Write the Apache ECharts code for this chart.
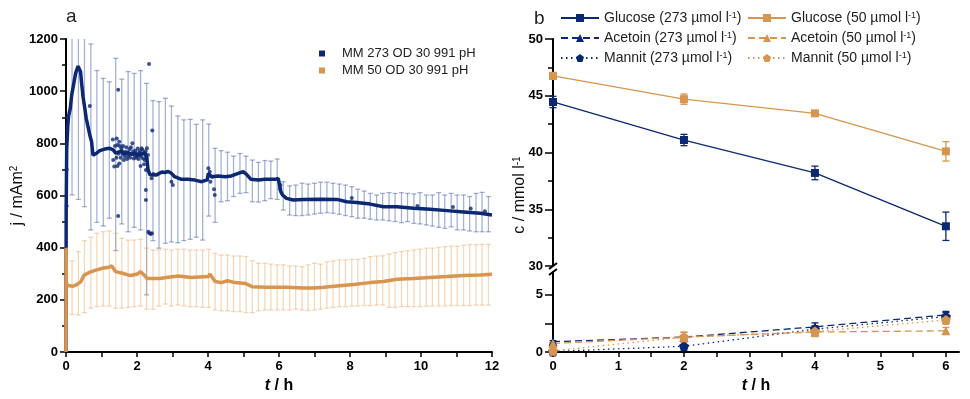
<!DOCTYPE html>
<html><head><meta charset="utf-8">
<script src="https://cdn.jsdelivr.net/npm/echarts@6/dist/echarts.min.js"></script>
<style>html,body{margin:0;padding:0;background:#fff}#c{width:970px;height:399px}</style>
</head><body><div id="c"></div>
<script>
// ---------- Panel a data ----------
const leftNames = ['MM 273 OD 30 991 pH', 'MM 50 OD 30 991 pH'];
const xTicksA = [0, 1, 2, 3, 4, 5, 6, 7, 8, 9, 10, 11, 12];
const xLabelsA = [0, 2, 4, 6, 8, 10, 12];
const blueTrace = [[0,0],[0.005,550],[0.02,780],[0.05,864],[0.07,902],[0.12,934],[0.16,985],[0.22,1030],[0.27,1068],[0.34,1096],[0.37,1094],[0.41,1075],[0.44,1030],[0.48,979],[0.53,934],[0.57,896],[0.62,864],[0.67,832],[0.72,807],[0.74,781],[0.76,755],[0.81,752],[0.86,762],[0.95,772],[1.09,778],[1.23,781],[1.33,775],[1.40,762],[1.45,765],[1.55,770],[1.65,760],[1.75,765],[1.85,758],[1.95,762],[2.05,755],[2.15,760],[2.22,765],[2.28,740],[2.31,700],[2.36,680],[2.41,679],[2.55,679],[2.70,690],[2.78,688],[2.88,692],[2.97,685],[3.06,672],[3.25,662],[3.44,662],[3.63,659],[3.82,653],[3.91,657],[3.98,660],[4.01,685],[4.05,678],[4.10,672],[4.29,675],[4.48,672],[4.66,675],[4.85,685],[4.99,691],[5.08,682],[5.21,662],[5.42,659],[5.60,662],[5.89,662],[5.98,665],[6.02,670],[6.05,615],[6.10,602],[6.21,589],[6.40,583],[6.69,585],[7.16,586],[7.63,585],[7.91,576],[8.19,573],[8.57,567],[8.94,557],[9.32,557],[9.79,551],[10.26,547],[10.73,542],[11.20,537],[11.67,532],[12.0,525]];
const orangeTrace = [[0,0],[0.005,400],[0.01,265],[0.05,255],[0.10,250],[0.20,252],[0.30,258],[0.42,270],[0.51,295],[0.66,305],[0.84,314],[1.03,321],[1.21,325],[1.29,330],[1.40,308],[1.59,302],[1.82,293],[2.01,299],[2.10,308],[2.20,295],[2.28,282],[2.45,282],[2.64,282],[2.83,286],[3.16,291],[3.53,286],[4.01,289],[4.05,299],[4.20,270],[4.38,266],[4.55,273],[4.76,266],[5.05,263],[5.25,250],[5.61,248],[6.21,248],[6.69,245],[6.97,245],[7.25,248],[7.63,253],[8.10,259],[8.57,266],[8.94,270],[9.32,279],[9.79,282],[10.26,286],[10.73,289],[11.20,293],[11.67,295],[12.0,298]];
const blueScatter = [[0.02,560],[0.02,700],[0.03,850],[0.04,900],[0.67,943],[1.32,815],[1.36,711],[1.33,736],[1.43,819],[1.45,794],[1.47,1005],[1.47,521],[1.45,713],[1.50,806],[1.50,723],[1.56,781],[1.59,759],[1.63,736],[1.68,768],[1.75,752],[1.79,777],[1.84,759],[1.87,800],[1.91,742],[1.96,772],[2.00,752],[2.06,762],[2.10,713],[2.13,781],[2.17,742],[2.22,736],[2.25,698],[2.25,621],[2.25,583],[2.28,781],[2.31,755],[2.32,461],[2.35,455],[2.39,452],[2.42,455],[2.34,1104],[2.43,849],[2.41,666],[2.46,682],[2.97,653],[3.01,640],[4.01,704],[4.05,691],[4.07,653],[4.12,672],[4.17,624],[4.19,602],[6.04,640],[6.03,625],[8.05,590],[9.90,560],[10.90,556],[11.40,550],[11.80,540],
  [1.38,790],[1.42,745],[1.48,760],[1.52,790],[1.54,745],[1.58,770],[1.61,790],[1.66,750],[1.70,785],[1.72,740],[1.77,760],[1.81,745],[1.83,785],[1.89,770],[1.93,755],[1.98,745],[2.02,780],[2.04,740],[2.08,770],[2.11,750],[2.15,775],[2.19,760],[2.20,720],[2.24,770],[2.27,745]];
const errT = [0.17,0.35,0.52,0.70,0.87,1.05,1.22,1.40,1.57,1.75,1.92,2.10,2.27,2.45,2.62,2.80,
  2.97,3.15,3.32,3.50,3.67,3.85,4.02,4.20,4.37,4.55,4.72,4.90,5.07,5.25,5.42,5.60,5.77,
  5.95,6.12,6.30,6.47,6.65,6.82,7.00,7.17,7.35,7.52,7.70,7.87,8.05,8.22,8.40,8.57,8.75,8.92,
  9.10,9.27,9.45,9.62,9.80,9.97,10.15,10.32,10.50,10.67,10.85,11.02,11.20,11.37,11.55,11.72,11.90];
const blueHi = [1300,1300,1250,1181,1079,1049,1036,1126,1046,1075,1068,1079,1030,964,960,973,
  943,905,890,892,873,890,874,781,772,766,751,761,751,736,727,734,732,
  740,653,637,640,647,644,647,651,651,647,644,640,634,624,617,608,602,608,
  611,608,611,608,606,611,602,602,611,602,608,602,602,596,608,612,596];
const blueLo = [602,585,557,468,497,483,513,389,491,461,478,468,219,427,398,417,
  422,419,427,432,440,429,521,497,576,580,596,608,611,576,575,580,588,
  585,544,525,523,523,525,529,532,534,532,528,523,519,513,513,509,506,506,
  503,500,496,500,493,491,487,483,478,474,480,468,468,464,461,461,461];
const orangeHi = [349,385,427,440,455,461,464,455,436,429,429,432,398,391,391,394,
  391,394,394,391,391,391,394,378,372,372,368,368,366,350,340,340,337,
  334,334,330,330,327,334,340,337,346,349,353,353,355,355,359,366,368,369,
  376,381,385,388,391,394,398,398,401,404,406,406,409,412,412,413,413];
const orangeLo = [144,142,151,168,174,176,176,168,168,171,174,176,164,164,176,184,
  176,180,176,174,174,171,171,161,158,158,155,155,151,151,158,161,161,
  161,161,161,164,161,159,161,164,168,171,174,174,176,176,178,178,180,180,
  171,171,174,174,174,174,176,176,176,176,178,178,178,178,180,180,180];

// ---------- Panel b data ----------
const rightNames = ['Glucose (273 µmol l⁻¹)','Glucose (50 µmol l⁻¹)','Acetoin (273 µmol l⁻¹)','Acetoin (50 µmol l⁻¹)','Mannit (273 µmol l⁻¹)','Mannit (50 µmol l⁻¹)'];
const tB = [0, 2, 4, 6];
const glu273 = [44.45, 41.1, 38.2, 33.5], glu273Err = [0.5, 0.5, 0.6, 1.25];
const glu50 = [46.75, 44.7, 43.45, 40.1], glu50Err = [0.3, 0.45, 0.15, 0.85];
const ace273 = [0.9, 1.3, 2.2, 3.25], ace273Err = [0.1, 0.15, 0.35, 0.3];
const ace50 = [0.75, 1.3, 1.75, 1.85], ace50Err = [0.1, 0.4, 0.4, 0.3];
const man273 = [0.05, 0.5, 2.0, 3.1], man273Err = [0.05, 0.1, 0.3, 0.35];
const man50 = [0.1, 1.3, 1.8, 2.8], man50Err = [0.05, 0.45, 0.4, 0.3];
const xTicksB = [0,0.5,1,1.5,2,2.5,3,3.5,4,4.5,5,5.5,6];
const xLabelsB = [0,1,2,3,4,5,6];
const yLabelsBUp = [30,35,40,45,50];
const yTicksBLow = [0,2.5,5];
const yLabelsBLow = [0,5];

// ---------- styling ----------
const NAVY = '#0c2872', ORANGE = '#d8954f';
const FONT = 'Liberation Sans';
const chart = echarts.init(document.getElementById('c'));

function errSeries(pts, xi, yi, color, lw, cap, yMax, z) {
  return {
    type: 'custom', xAxisIndex: xi, yAxisIndex: yi, data: pts, z: z, silent: true,
    encode: { x: 0, y: [1, 2] },
    renderItem: function (params, api) {
      const x = api.value(0), lo = api.value(1), hi = api.value(2);
      const clipped = hi > yMax;
      const pt = api.coord([x, clipped ? yMax : hi]);
      const pb = api.coord([x, lo]);
      const st = { stroke: color, lineWidth: lw };
      const ch = [{ type: 'line', shape: { x1: pt[0], y1: pt[1], x2: pb[0], y2: pb[1] }, style: st }];
      if (!clipped) ch.push({ type: 'line', shape: { x1: pt[0] - cap, y1: pt[1], x2: pt[0] + cap, y2: pt[1] }, style: st });
      ch.push({ type: 'line', shape: { x1: pb[0] - cap, y1: pb[1], x2: pb[0] + cap, y2: pb[1] }, style: st });
      return { type: 'group', children: ch };
    }
  };
}
const zip = (t, v) => t.map((x, i) => [x, v[i]]);
const errPts = (t, v, e) => t.map((x, i) => [x, v[i] - e[i], v[i] + e[i]]);

const axisBase = {
  axisLine: { lineStyle: { color: '#000', width: 2 } },
  axisTick: { lineStyle: { color: '#000', width: 1.5 }, length: 6 },
  splitLine: { show: false },
  axisLabel: { color: '#000', fontSize: 13, fontWeight: 'bold', fontFamily: FONT, formatter: v => String(v) }
};
const merge = (a, b) => echarts.util.merge(echarts.util.clone(a), b, true);

const supRich = {
  n: { fontSize: 14, fontFamily: FONT, color: '#222' },
  s: { fontSize: 9, fontFamily: FONT, color: '#222', verticalAlign: 'top', lineHeight: 10 }
};
const legFmt = name => {
  const p = name.split('⁻¹');
  return '{n|' + p[0] + '}{s|-1}{n|' + p[1] + '}';
};
const lineSeries = (name, vals, xi, yi, color, type, symbol, size) => ({
  name: name, type: 'line', xAxisIndex: xi, yAxisIndex: yi, data: zip(tB, vals),
  lineStyle: { color: color, width: 1.3, type: type },
  itemStyle: { color: color }, symbol: symbol, symbolSize: size, z: 5
});
const HEX = 'path://M0,-1L0.95,-0.31L0.59,0.81L-0.59,0.81L-0.95,-0.31Z';
const titleRich = { i: { fontStyle: 'italic', fontWeight: 'bold', fontSize: 16, fontFamily: FONT }, n: { fontWeight: 'bold', fontSize: 16, fontFamily: FONT } };

const option = {
  animation: false,
  textStyle: { fontFamily: FONT },
  grid: [
    { left: 66, top: 39, width: 426, height: 313 },
    { left: 553, top: 39, width: 406, height: 227 },
    { left: 553, top: 272, width: 406, height: 80 }
  ],
  xAxis: [
    merge(axisBase, { gridIndex: 0, type: 'value', min: 0, max: 12, interval: 1,
      axisTick: { customValues: xTicksA, length: 5 }, axisLabel: { customValues: xLabelsA, margin: 8 },
      name: '{i|t}{n| / h}', nameLocation: 'middle', nameGap: 26, nameTextStyle: { rich: titleRich } }),
    merge(axisBase, { gridIndex: 1, type: 'value', min: 0, max: 6.2, show: false }),
    merge(axisBase, { gridIndex: 2, type: 'value', min: 0, max: 6.2,
      axisTick: { customValues: xTicksB, length: 5 }, axisLabel: { customValues: xLabelsB, margin: 8 },
      name: '{i|t}{n| / h}', nameLocation: 'middle', nameGap: 26, nameTextStyle: { rich: titleRich } })
  ],
  yAxis: [
    merge(axisBase, { gridIndex: 0, type: 'value', min: 0, max: 1200, interval: 200,
      minorTick: { show: true, splitNumber: 2, length: 4, lineStyle: { color: '#000', width: 1.5 } },
      axisLabel: { margin: 8 },
      name: '{n|j / mAm}{s|2}', nameLocation: 'middle', nameGap: 37, nameRotate: 90,
      nameTextStyle: { rich: { n: { fontSize: 16, fontFamily: FONT, color: '#111' }, s: { fontSize: 10, fontFamily: FONT, color: '#111', verticalAlign: 'top', lineHeight: 10 } } } }),
    merge(axisBase, { gridIndex: 1, type: 'value', min: 30, max: 50, interval: 5,
      minorTick: { show: true, splitNumber: 2, length: 5, lineStyle: { color: '#000', width: 1.5 } },
      axisTick: { length: 8 }, axisLabel: { customValues: yLabelsBUp, margin: 10 } }),
    merge(axisBase, { gridIndex: 2, type: 'value', min: 0, max: 7,
      axisTick: { customValues: yTicksBLow, length: 8 }, axisLabel: { customValues: yLabelsBLow, margin: 10 } })
  ],
  legend: [
    { orient: 'vertical', left: 314, top: 42, itemWidth: 6, itemHeight: 6, itemGap: 4,
      data: leftNames.map(n => ({ name: n, icon: 'rect' })),
      textStyle: { fontSize: 13, color: '#222', fontFamily: FONT, padding: [0, 0, 0, 12] } },
    { orient: 'vertical', left: 555, top: 6, itemWidth: 38, itemHeight: 10, itemGap: 6,
      data: [rightNames[0], rightNames[2], rightNames[4]], formatter: legFmt,
      textStyle: { rich: supRich } },
    { orient: 'vertical', left: 742, top: 6, itemWidth: 38, itemHeight: 10, itemGap: 6,
      data: [rightNames[1], rightNames[3], rightNames[5]], formatter: legFmt,
      textStyle: { rich: supRich } }
  ],
  graphic: [
    { id: 'la', type: 'text', left: 66, top: 7, style: { text: 'a', fontSize: 19, fontFamily: FONT, fill: '#222' } },
    { id: 'lb', type: 'text', left: 534, top: 9, style: { text: 'b', fontSize: 19, fontFamily: FONT, fill: '#222' } },
    { id: 'cy', type: 'text', x: 520, y: 195, rotation: Math.PI / 2,
      style: { text: '{n|c / mmol l}{s|-1}', align: 'center', verticalAlign: 'middle',
        rich: { n: { fontSize: 16, fontFamily: FONT, fill: '#111' }, s: { fontSize: 10, fontFamily: FONT, fill: '#111', verticalAlign: 'top', lineHeight: 10 } } } }
  ],
  series: [
    errSeries(errT.map((t, i) => [t, blueLo[i], blueHi[i]]), 0, 0, 'rgba(40,70,155,0.42)', 1.3, 2.5, 1200, 1),
    errSeries(errT.map((t, i) => [t, orangeLo[i], orangeHi[i]]), 0, 0, 'rgba(230,160,90,0.42)', 1.3, 2.5, 1200, 1),
    { name: leftNames[0], type: 'line', xAxisIndex: 0, yAxisIndex: 0, data: blueTrace, showSymbol: false, symbol: 'rect',
      lineStyle: { color: NAVY, width: 3.5 }, itemStyle: { color: NAVY }, z: 3 },
    { name: leftNames[0], type: 'scatter', xAxisIndex: 0, yAxisIndex: 0, data: blueScatter, symbolSize: 4,
      itemStyle: { color: NAVY }, z: 3 },
    { name: leftNames[1], type: 'line', xAxisIndex: 0, yAxisIndex: 0, data: orangeTrace, showSymbol: false, symbol: 'rect',
      lineStyle: { color: ORANGE, width: 3.5 }, itemStyle: { color: ORANGE }, z: 4 },

    errSeries(errPts(tB, glu273, glu273Err), 1, 1, NAVY, 1.3, 3.5, 1e9, 4),
    errSeries(errPts(tB, glu50, glu50Err), 1, 1, ORANGE, 1.3, 3.5, 1e9, 4),
    lineSeries(rightNames[0], glu273, 1, 1, NAVY, 'solid', 'rect', 8),
    lineSeries(rightNames[1], glu50, 1, 1, ORANGE, 'solid', 'rect', 8),

    errSeries(errPts(tB, ace273, ace273Err), 2, 2, NAVY, 1.3, 3.5, 1e9, 4),
    errSeries(errPts(tB, ace50, ace50Err), 2, 2, ORANGE, 1.3, 3.5, 1e9, 4),
    errSeries(errPts(tB, man273, man273Err), 2, 2, NAVY, 1.3, 3.5, 1e9, 4),
    errSeries(errPts(tB, man50, man50Err), 2, 2, ORANGE, 1.3, 3.5, 1e9, 4),
    lineSeries(rightNames[2], ace273, 2, 2, NAVY, [7, 4], 'triangle', 9),
    lineSeries(rightNames[3], ace50, 2, 2, ORANGE, [7, 4], 'triangle', 9),
    lineSeries(rightNames[4], man273, 2, 2, NAVY, [1.5, 3.5], HEX, 10),
    lineSeries(rightNames[5], man50, 2, 2, ORANGE, [1.5, 3.5], HEX, 10)
  ]
};
chart.setOption(option);

// axis break marks on panel b
const pUp = chart.convertToPixel({ gridIndex: 1 }, [0, 30]);
const pLo = chart.convertToPixel({ gridIndex: 2 }, [0, 7]);
chart.setOption({ graphic: [
  { id: 'br1', type: 'line', shape: { x1: pUp[0] - 4, y1: pUp[1] + 3, x2: pUp[0] + 4, y2: pUp[1] - 3 }, style: { stroke: '#000', lineWidth: 2 } },
  { id: 'br2', type: 'line', shape: { x1: pLo[0] - 4, y1: pLo[1] + 3, x2: pLo[0] + 4, y2: pLo[1] - 3 }, style: { stroke: '#000', lineWidth: 2 } }
] });
</script>
</body></html>
